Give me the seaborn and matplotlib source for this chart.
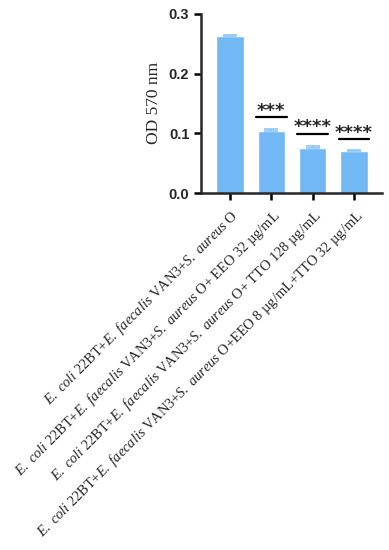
import matplotlib
matplotlib.use("Agg")
import matplotlib.pyplot as plt
import seaborn as sns
import numpy as np

categories = [
    r"$\mathit{E.\ coli}$ 22BT+$\mathit{E.\ faecalis}$ VAN3+$\mathit{S.\ aureus}$ O",
    r"$\mathit{E.\ coli}$ 22BT+$\mathit{E.\ faecalis}$ VAN3+$\mathit{S.\ aureus}$ O+ EEO 32 µg/mL",
    r"$\mathit{E.\ coli}$ 22BT+$\mathit{E.\ faecalis}$ VAN3+$\mathit{S.\ aureus}$ O+ TTO 128 µg/mL",
    r"$\mathit{E.\ coli}$ 22BT+$\mathit{E.\ faecalis}$ VAN3+$\mathit{S.\ aureus}$ O+EEO 8 µg/mL+TTO 32 µg/mL",
]
values = [0.262, 0.103, 0.075, 0.070]
errors = [0.003, 0.004, 0.003, 0.002]
sig_labels = ["", "***", "****", "****"]
sig_heights = [None, 0.127, 0.099, 0.090]
y_ticks = [0.0, 0.1, 0.2, 0.3]

sns.set_style("ticks")
plt.rcParams["mathtext.fontset"] = "custom"
plt.rcParams["mathtext.rm"] = "Liberation Serif"
plt.rcParams["mathtext.it"] = "Liberation Serif:italic"

bar_color = "#72B8F5"
err_color = "#8CC6F5"

fig = plt.figure(figsize=(3.89, 5.5), dpi=100)
ax = fig.add_axes([0.517, 0.649, 0.465, 0.326])

xs = np.arange(len(categories))
sns.barplot(x=xs, y=values, ax=ax, color=bar_color, saturation=1, width=0.66)
ax.errorbar(xs, values, yerr=[np.zeros(len(errors)), errors], fmt="none",
            ecolor=err_color, elinewidth=1.2, capsize=5, capthick=1.2, zorder=3)

for i, (lab, h) in enumerate(zip(sig_labels, sig_heights)):
    if not lab:
        continue
    ax.plot([i - 0.37, i + 0.37], [h, h], color="black", lw=1.6, clip_on=False)
    ax.text(i, h + 0.0025, lab, ha="center", va="baseline", fontsize=13,
            fontweight="bold", family="DejaVu Sans", clip_on=False)

ax.set_xlim(-0.7, 3.68)
ax.set_ylim(0, 0.3)
ax.set_yticks(y_ticks)
ax.set_yticklabels([f"{t:.1f}" for t in y_ticks], fontweight="bold",
                   family="Liberation Sans", fontsize=10.5)
ax.set_xticks(xs)
ax.set_xticklabels(categories, rotation=45, ha="right", rotation_mode="anchor",
                   family="Liberation Serif", fontsize=10.4)
ax.set_ylabel("OD 570 nm", family="Liberation Serif", fontsize=12.5, labelpad=5)
for s in ["top", "right"]:
    ax.spines[s].set_visible(False)
for s in ["left", "bottom"]:
    ax.spines[s].set_linewidth(1.8)
ax.tick_params(axis="both", width=1.8, length=5, color="black")
ax.tick_params(axis="x", pad=5)

fig.savefig("out.png", dpi=100)
